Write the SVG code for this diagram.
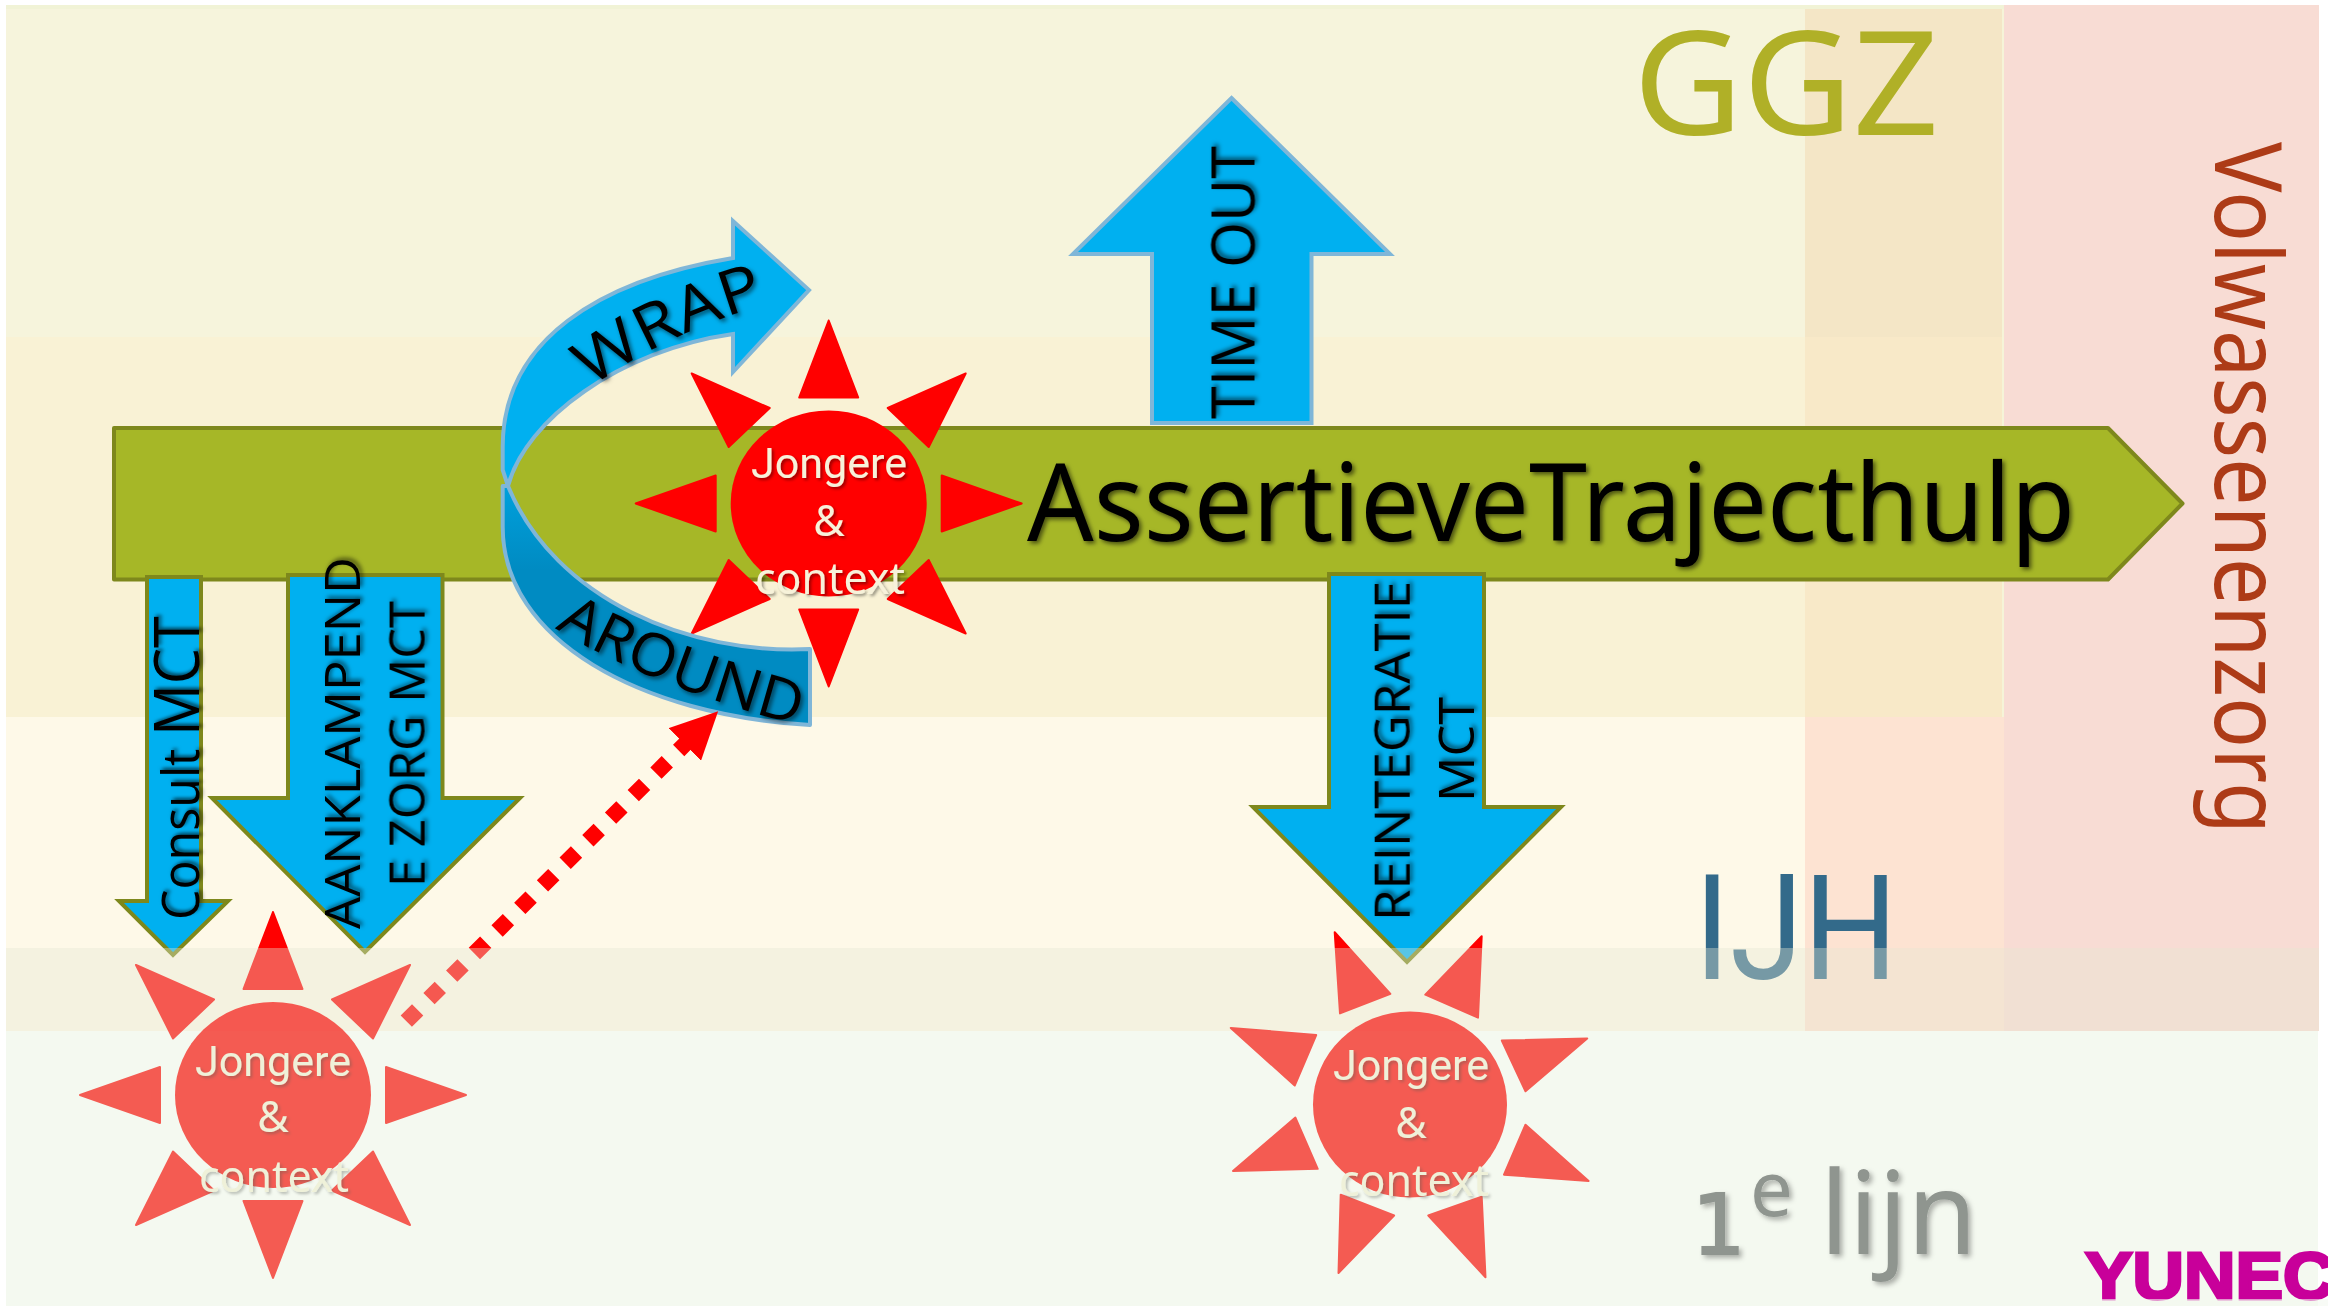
<svg xmlns="http://www.w3.org/2000/svg" width="2328" height="1306" viewBox="0 0 2328 1306">
<style>
text{font-family:"Noto Sans","Open Sans","DejaVu Sans",sans-serif}
.cap{font-family:"Open Sans","Noto Sans",sans-serif}
.rob{font-family:Roboto,"Noto Sans",sans-serif}
.blk{fill:#000;filter:url(#sh)}
.crm{fill:#f7f2da;font-size:43px;text-anchor:middle;filter:url(#shl)}
.blu-o{fill:#00b0f0;stroke:#7e881c;stroke-width:4;stroke-linejoin:miter}
.blu-b{fill:#00b0f0;stroke:#7fb6d8;stroke-width:4;stroke-linejoin:miter}
.ray{fill:#f00;stroke:#f00;stroke-width:2;stroke-linejoin:round}
</style>
<defs>
<filter id="sh" x="-20%" y="-20%" width="140%" height="140%"><feDropShadow dx="2.5" dy="2.5" stdDeviation="2" flood-color="#000" flood-opacity=".55"/></filter>
<filter id="shl" x="-20%" y="-20%" width="140%" height="140%"><feDropShadow dx="2" dy="2" stdDeviation="1.5" flood-color="#000" flood-opacity=".4"/></filter>
<filter id="shg" x="-20%" y="-20%" width="140%" height="140%"><feDropShadow dx="3" dy="3" stdDeviation="2.5" flood-color="#000" flood-opacity=".3"/></filter>
<linearGradient id="dk" x1="0" y1="0" x2="0" y2="1"><stop offset="0" stop-color="#00a0dc"/><stop offset=".35" stop-color="#008bc2"/><stop offset="1" stop-color="#008bc2"/></linearGradient>
<marker id="head" viewBox="0 0 47 46" refX="1" refY="23" markerWidth="47" markerHeight="46" markerUnits="userSpaceOnUse" orient="auto"><path d="M0 0L47 23L0 46z" fill="#f00"/></marker>
<g id="rays" class="ray">
<path d="M0-183L-29.500-106H29.500z"/><path d="M137-130L59-95.500L100-56.500z"/><path d="M113-28V28L193 0z"/><path d="M-113-28V28L-193 0z"/><path d="M-137-130L-59-95.500L-100-56.500z"/>
<path d="M0 183L-29.500 106H29.500z"/><path d="M137 130L59 95.500L100 56.500z"/><path d="M-137 130L-59 95.500L-100 56.500z"/>
</g>
<path id="wrap-p" d="M591 388Q663 334 773 302"/>
<path id="around-p" d="M555 628Q645 684 800 726"/>
<clipPath id="yc"><rect x="2000" y="1240" width="328" height="66"/></clipPath>
</defs>

<g id="background">
<rect x="6" y="5" width="1799" height="332" fill="#f6f4dc"/>
<rect x="6" y="5" width="1999" height="4" fill="#f1f3d6"/>
<rect x="6" y="337" width="1799" height="380" fill="#f9f2d5"/>
<rect x="6" y="717" width="1799" height="314" fill="#fef9e8"/>
<rect x="1805" y="9" width="199" height="328" fill="#f4e6c6"/>
<rect x="1805" y="337" width="199" height="380" fill="#f8e9c8"/>
<rect x="1805" y="717" width="199" height="314" fill="#fde3d2"/>
<rect x="2004" y="5" width="315" height="1026" fill="#f8dcd4"/>
<rect x="2002" y="9" width="2" height="708" fill="#f6f4d8"/>
</g>

<g id="label-ggz"><text x="1633" y="135" font-size="145" fill="#b0b027" textLength="306" lengthAdjust="spacingAndGlyphs">GGZ</text></g>
<g id="label-volwassenenzorg"><text transform="translate(2214.500 142) rotate(90)" font-size="93" fill="#ad3b17" textLength="692" lengthAdjust="spacingAndGlyphs">Volwassenenzorg</text></g>
<g id="label-ijh"><text x="1694" y="979" font-size="147" fill="#336a8a" class="rob" textLength="204" lengthAdjust="spacingAndGlyphs">IJH</text></g>

<g id="node-traject">
<path d="M114 428H2108L2182.500 503.500L2108 579.500H114z" fill="#a6b727" stroke="#7e881c" stroke-width="4" stroke-linejoin="round"/>
<text x="1027" y="541" font-size="108" class="blk" textLength="1048" lengthAdjust="spacingAndGlyphs">AssertieveTrajecthulp</text>
</g>

<g id="node-timeout">
<path class="blu-b" d="M1231.500 98L1390 254H1311.500V423H1152V254H1073z"/>
<text transform="translate(1254.500 419) rotate(-90)" font-size="60" class="blk cap" textLength="273" lengthAdjust="spacingAndGlyphs">TIME OUT</text>
</g>

<g id="node-consult">
<path class="blu-o" d="M147 577H201V901H228L173 955L119 901H147z"/>
<text transform="translate(199 920) rotate(-90) scale(.93 1)" class="blk cap" font-size="52">Consult <tspan font-size="62">MCT</tspan></text>
</g>

<g id="node-aanklampend">
<path class="blu-o" d="M288 575H442.500V798H520L365 952L212 798H288z"/>
<text transform="translate(360 929) rotate(-90)" font-size="49" class="blk cap" textLength="372" lengthAdjust="spacingAndGlyphs">AANKLAMPEND</text>
<text transform="translate(424.600 887) rotate(-90)" font-size="49" class="blk cap" textLength="286" lengthAdjust="spacingAndGlyphs">E ZORG MCT</text>
</g>

<g id="node-reintegratie">
<path class="blu-o" d="M1329 574H1484V807H1561L1407 962L1253 807H1329z"/>
<text transform="translate(1409.700 921) rotate(-90)" font-size="49" class="blk cap" textLength="340" lengthAdjust="spacingAndGlyphs">REINTEGRATIE</text>
<text transform="translate(1474 802) rotate(-90)" font-size="49" class="blk cap" textLength="105" lengthAdjust="spacingAndGlyphs">MCT</text>
</g>

<g id="node-wrap">
<path class="blu-b" d="M508 486L502.700 470V448C502 340 600 280 733 258V221L809 290L733 372V334C620 350 525 420 508 486z" stroke-linejoin="round"/>
<text font-size="62" class="blk cap"><textPath href="#wrap-p" textLength="195" lengthAdjust="spacingAndGlyphs">WRAP</textPath></text>
</g>

<g id="node-jongere-top">
<use href="#rays" transform="translate(828.700 503.500)"/>
<ellipse cx="828.700" cy="503.500" rx="98" ry="93" fill="#f00"/>
<text class="crm rob" x="829" y="478" textLength="156" lengthAdjust="spacingAndGlyphs">Jongere</text>
<text class="crm" x="829" y="536">&amp;</text>
<text class="crm" x="830" y="594" textLength="150" lengthAdjust="spacingAndGlyphs">context</text>
</g>

<g id="node-around">
<path d="M502.700 486V527C502.700 640 640 715 810 725V649C690 655 555 600 508 486z" fill="url(#dk)" stroke="#7fb6d8" stroke-width="4" stroke-linejoin="round"/>
<text font-size="59" class="blk cap"><textPath href="#around-p" textLength="262" lengthAdjust="spacingAndGlyphs">AROUND</textPath></text>
</g>

<g id="node-jongere-left">
<use href="#rays" transform="translate(273 1095)"/>
<ellipse cx="273" cy="1095" rx="98" ry="93" fill="#f00"/>
<text class="crm rob" x="273" y="1076" textLength="156" lengthAdjust="spacingAndGlyphs">Jongere</text>
<text class="crm" x="273" y="1132">&amp;</text>
<text class="crm" x="274" y="1192" textLength="150" lengthAdjust="spacingAndGlyphs">context</text>
</g>

<g id="node-jongere-right">
<g class="ray">
<path d="M1334.700 932.200L1390.400 993.800L1340 1013.400z"/>
<path d="M1481.700 936.300L1425.300 994.700L1478 1017.600z"/>
<path d="M1587.200 1038.400L1501.800 1040.500L1525.500 1091.300z"/>
<path d="M1525.500 1124.700L1504 1174.700L1588.600 1180.900z"/>
<path d="M1428.300 1215.500L1481.700 1196.800L1485.500 1277.200z"/>
<path d="M1394.100 1215.500L1340.700 1194.700L1338.500 1273z"/>
<path d="M1295.400 1117.600L1317.700 1168.800L1233 1171z"/>
<path d="M1230.800 1028L1316.200 1035L1294.700 1085.500z"/>
</g>
<ellipse cx="1410" cy="1104.500" rx="97" ry="93" fill="#f00"/>
<text class="crm rob" x="1411" y="1080" textLength="156" lengthAdjust="spacingAndGlyphs">Jongere</text>
<text class="crm" x="1411" y="1138">&amp;</text>
<text class="crm" x="1414" y="1196" textLength="150" lengthAdjust="spacingAndGlyphs">context</text>
</g>

<g id="connectors">
<path d="M406.300 1021.200L685.500 743.700" fill="none" stroke="#f00" stroke-width="16" stroke-dasharray="16 16" marker-end="url(#head)"/>
</g>

<g id="overlay">
<rect x="6" y="948" width="2313" height="83" fill="#e4e7d3" fill-opacity=".38"/>
<rect x="6" y="1031" width="2312" height="275" fill="#e2eed8" fill-opacity=".38"/>
</g>

<g id="label-1e-lijn"><text x="1692" y="1254" fill="#8f958f" filter="url(#shg)"><tspan font-size="84" style="font-family:'DejaVu Sans',sans-serif" stroke="#8f958f" stroke-width="2">1</tspan><tspan dy="-38" x="1750" font-size="76">e </tspan><tspan dy="38" x="1820" font-size="116" textLength="157" lengthAdjust="spacingAndGlyphs">lijn</tspan></text></g>

<g id="label-yunec">
<g clip-path="url(#yc)"><text transform="translate(2085 1299) scale(1.08 1)" font-size="66" style="font-family:'Liberation Sans',Arial,sans-serif;font-weight:700" fill="#c8009a" stroke="#c8009a" stroke-width="3">YUNEC</text></g>
<rect x="2080" y="1299" width="248" height="7" fill="#f4f8f0" fill-opacity=".6"/>
</g>
</svg>
